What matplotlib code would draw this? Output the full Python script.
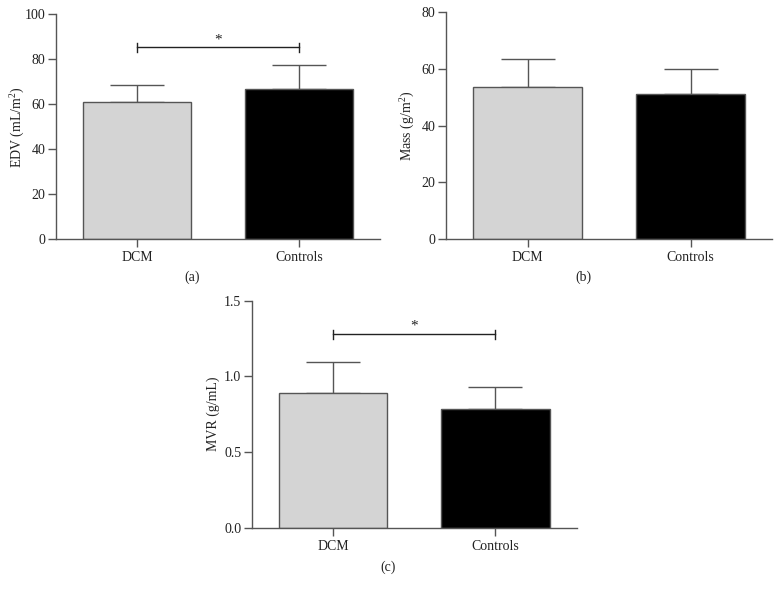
import matplotlib
matplotlib.use("Agg")
import matplotlib.pyplot as plt
import numpy as np

plt.rcParams['font.family'] = ['Liberation Serif', 'DejaVu Serif']
plt.rcParams['mathtext.fontset'] = 'custom'
plt.rcParams['mathtext.rm'] = 'Liberation Serif'

categories = ["DCM", "Controls"]

edv_mean = [61.0, 66.7]
edv_sd = [7.6, 10.5]

mass_mean = [53.5, 51.3]
mass_sd = [9.9, 8.9]

mvr_mean = [0.89, 0.783]
mvr_sd = [0.203, 0.150]

panels = [
    dict(mean=edv_mean, sd=edv_sd, ylabel=r"EDV (mL/m$^2$)", ylim=(0, 100), yticks=[0, 20, 40, 60, 80, 100],
         fmt="{:.0f}", sig=(85.3, 2.2, 88.4), label="(a)",
         rect=[0.0718, 0.597, 0.4152, 0.379], lab_xy=(192, 277), ylab_x=17),
    dict(mean=mass_mean, sd=mass_sd, ylabel=r"Mass (g/m$^2$)", ylim=(0, 80), yticks=[0, 20, 40, 60, 80],
         fmt="{:.0f}", sig=None, label="(b)",
         rect=[0.5718, 0.597, 0.4180, 0.382], lab_xy=(583, 277), ylab_x=407),
    dict(mean=mvr_mean, sd=mvr_sd, ylabel="MVR (g/mL)", ylim=(0, 1.5), yticks=[0.0, 0.5, 1.0, 1.5],
         fmt="{:.1f}", sig=(1.278, 0.033, 1.33), label="(c)",
         rect=[0.3227, 0.110, 0.4167, 0.383], lab_xy=(388, 567), ylab_x=213),
]

W, H = 780, 593
fig = plt.figure(figsize=(7.8, 5.93), dpi=100)
grey = "#555555"
bar_colors = ["#d4d4d4", "#000000"]

for p in panels:
    ax = fig.add_axes(p["rect"])
    x = np.arange(len(categories))
    ax.bar(x, p["mean"], width=0.667, color=bar_colors, edgecolor=grey, linewidth=1.0, zorder=2)
    ax.errorbar(x, p["mean"], yerr=[np.zeros(len(x)), p["sd"]], fmt="none", ecolor=grey,
                elinewidth=1.0, capsize=19.4, capthick=1.0, zorder=1)
    ax.set_xlim(-0.5, 1.5)
    ax.set_ylim(*p["ylim"])
    ax.set_xticks(x)
    ax.set_xticklabels(categories, fontsize=10)
    ax.set_yticks(p["yticks"])
    ax.set_yticklabels([p["fmt"].format(v) for v in p["yticks"]], fontsize=10)
    for s in ["top", "right"]:
        ax.spines[s].set_visible(False)
    for s in ["left", "bottom"]:
        ax.spines[s].set_color(grey)
        ax.spines[s].set_linewidth(1.0)
    ax.tick_params(axis="both", direction="out", length=6, width=1.0, color=grey, labelcolor="#222222")
    ax.tick_params(axis="y", pad=1.5)
    ax.tick_params(axis="x", pad=3)
    if p["sig"] is not None:
        yl, dy, ys = p["sig"]
        ax.plot([x[0], x[1]], [yl, yl], color="#222222", lw=1.0)
        ax.plot([x[0], x[0]], [yl - dy, yl + dy * 0.8], color="#222222", lw=1.0)
        ax.plot([x[1], x[1]], [yl - dy, yl + dy * 0.8], color="#222222", lw=1.0)
        ax.text(0.5, ys, "*", ha="center", va="center", fontsize=11, color="#222222")
    fig.text(p["ylab_x"] / W, p["rect"][1] + p["rect"][3] / 2, p["ylabel"], rotation=90,
             ha="center", va="center", fontsize=10, color="#222222")
    fig.text(p["lab_xy"][0] / W, 1 - p["lab_xy"][1] / H, p["label"], ha="center", va="center",
             fontsize=10, color="#222222")

fig.savefig("out.png", dpi=100, facecolor="white")
